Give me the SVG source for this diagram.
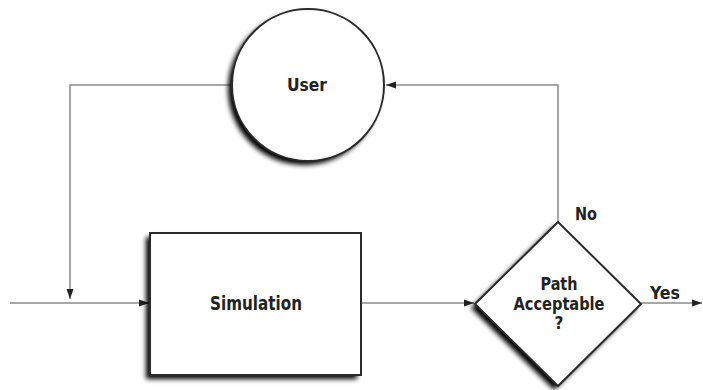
<svg xmlns="http://www.w3.org/2000/svg" width="703" height="390" viewBox="0 0 703 390">
<style>
.ln{fill:none;stroke:#8a8a8a;stroke-width:1.5}
.shape{fill:#fff;stroke:#2a2a2a;stroke-width:2}
.sh{fill:#000;filter:url(#blur)}
.t{font-family:"Liberation Sans Narrow","DejaVu Sans Condensed","Liberation Sans",sans-serif;font-weight:bold;fill:#222;text-anchor:middle}
</style>
<defs>
<filter id="blur" x="-20%" y="-20%" width="140%" height="140%"><feGaussianBlur stdDeviation="2.5"/></filter>
<marker id="ah" viewBox="0 0 10 10" refX="10" refY="5" markerWidth="10" markerHeight="10" markerUnits="userSpaceOnUse" orient="auto"><path d="M0,1.5 L10,5 L0,8.5 Z" fill="#222"/></marker>
</defs>
<g id="connectors">
<path class="ln" d="M232,85 H70 V299" marker-end="url(#ah)"/>
<path class="ln" d="M10,303 H149" marker-end="url(#ah)"/>
<path class="ln" d="M361,303 H474" marker-end="url(#ah)"/>
<path class="ln" d="M641,303 H702" marker-end="url(#ah)"/>
<path class="ln" d="M558,222 V85 H386" marker-end="url(#ah)"/>
</g>
<g id="user">
<circle class="sh" cx="304" cy="89" r="76"/>
<circle class="shape" cx="308" cy="85" r="76"/>
<text class="t" x="307" y="91" font-size="18" textLength="40" lengthAdjust="spacingAndGlyphs">User</text>
</g>
<g id="simulation">
<rect class="sh" x="146" y="237" width="211" height="142"/>
<rect class="shape" x="150" y="233" width="211" height="142"/>
<text class="t" x="256" y="310" font-size="19" textLength="92" lengthAdjust="spacingAndGlyphs">Simulation</text>
</g>
<g id="decision">
<polygon class="sh" points="554,226 637,308 554,390 471,308"/>
<polygon class="shape" points="558,222 641,304 558,386 475,304"/>
<text class="t" x="559" y="290" font-size="17" textLength="37" lengthAdjust="spacingAndGlyphs">Path</text>
<text class="t" x="559" y="310" font-size="17" textLength="91" lengthAdjust="spacingAndGlyphs">Acceptable</text>
<text class="t" x="559" y="329" font-size="17">?</text>
</g>
<text class="t" x="586" y="220" font-size="17" textLength="22" lengthAdjust="spacingAndGlyphs">No</text>
<text class="t" x="665" y="299" font-size="17" textLength="30" lengthAdjust="spacingAndGlyphs">Yes</text>
</svg>
